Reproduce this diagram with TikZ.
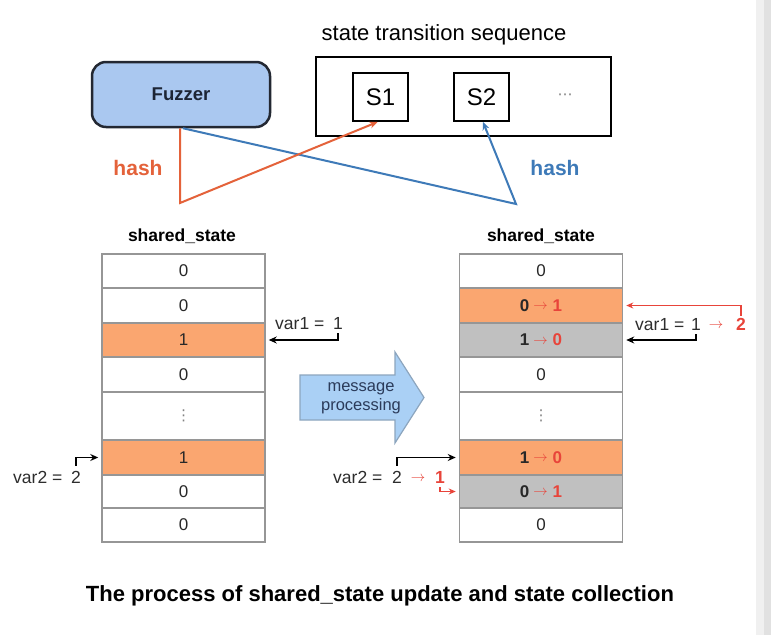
\documentclass[tikz,border=0pt]{standalone}
\usepackage{fontspec}
\setmainfont{Liberation Sans}
\newfontfamily\symfont{DejaVu Sans}
\usetikzlibrary{arrows.meta}

\definecolor{fuzzblue}{RGB}{170,200,240}
\definecolor{fuzzline}{RGB}{35,40,50}
\definecolor{fuzztext}{RGB}{28,37,53}
\definecolor{hashorange}{RGB}{228,98,58}
\definecolor{hashblue}{RGB}{62,122,184}
\definecolor{cellline}{RGB}{150,150,150}
\definecolor{celltext}{RGB}{40,40,40}
\definecolor{cellorange}{RGB}{250,166,112}
\definecolor{cellgrey}{RGB}{192,192,192}
\definecolor{newred}{RGB}{232,68,58}
\definecolor{labeltext}{RGB}{45,45,45}
\definecolor{msgblue}{RGB}{170,208,245}
\definecolor{msgline}{RGB}{140,165,190}
\definecolor{msgtext}{RGB}{43,59,90}
\definecolor{dotgrey}{RGB}{130,130,130}
\definecolor{scrolllight}{RGB}{240,240,240}
\definecolor{scrolldark}{RGB}{225,225,225}

\newcommand\titlefont{\fontsize{22}{26}\selectfont}
\newcommand\capfont{\fontsize{22}{26}\selectfont\bfseries}
\newcommand\fuzzfont{\fontsize{18.5}{22}\selectfont}
\newcommand\sfont{\fontsize{24}{29}\selectfont}
\newcommand\hashfont{\fontsize{21}{25}\selectfont\bfseries}
\newcommand\cellfont{\fontsize{17}{20}\selectfont}
\newcommand\headfont{\fontsize{17.5}{21}\selectfont\bfseries}
\newcommand\varfont{\fontsize{17.5}{21}\selectfont}
\newcommand\msgfont{\fontsize{16.5}{19}\selectfont}
\newcommand\smallarr{\raisebox{1.5pt}{\fontsize{14}{14}\selectfont$\rightarrow$}}
\newcommand\chg[2]{\textbf{#1}\hspace{4pt}\textcolor{newred}{\smallarr\hspace{5pt}\textbf{#2}}}
\newcommand\vdotsmark{\textcolor{dotgrey}{\symfont\fontsize{15}{15}\selectfont ⋮}}

\begin{document}
\begin{tikzpicture}[x=1pt, y=-1pt, >={Stealth[length=8pt,width=7pt]},
    cell/.style={draw=cellline, line width=1.5pt, minimum width=163pt, inner sep=0pt, font=\cellfont, text=celltext},
    sbox/.style={draw, line width=2pt, minimum width=55pt, minimum height=48pt, inner sep=0pt, font=\sfont},
    ptr/.style={->, line width=1.3pt, shorten >=3pt},
    newptr/.style={->, draw=newred, line width=1.2pt, shorten >=3pt, >={Stealth[length=7pt,width=6pt]}},
    lbl/.style={inner sep=0pt, font=\varfont, text=labeltext},
    hashline/.style={->, line width=2pt}]
    \useasboundingbox (0,0) rectangle (771,635);
    \fill[white] (0,0) rectangle (771,635);
    \fill[scrolllight] (756,0) rectangle (764,635);
    \fill[scrolldark] (764,0) rectangle (771,635);

    \node[draw=fuzzline, fill=fuzzblue, line width=2.5pt, rounded corners=14pt, minimum width=178pt, minimum height=65pt, font=\fuzzfont, text=fuzztext] (fuzzer) at (181,94.5) {\textbf{Fuzzer}};
    \node[font=\titlefont] (seqtitle) at (444,35) {state transition sequence};
    \node[draw, line width=2pt, minimum width=295pt, minimum height=79pt] (seqbox) at (463.5,96) {};
    \node[sbox] (S1) at (380.5,97) {S1};
    \node[sbox] (S2) at (481.5,97) {S2};
    \node[text=dotgrey, font=\symfont\fontsize{15}{15}\selectfont] (more) at (565,97) {⋯};

    \coordinate (bendA) at (180,203);
    \coordinate (bendB) at (516,204);
    \draw[hashline, hashblue] ([xshift=2pt]fuzzer.south) -- (bendB) -- ([xshift=1.5pt]S2.south);
    \draw[hashline, hashorange] ([xshift=-1pt]fuzzer.south) -- (bendA) -- ([xshift=-3pt]S1.south);
    \node[font=\hashfont, text=hashorange] (hashA) at (138,168) {hash};
    \node[font=\hashfont, text=hashblue] (hashB) at (555,168) {hash};

    \node[font=\headfont] (headL) at (182,236) {shared\_state};
    \node[font=\headfont] (headR) at (541,236) {shared\_state};
    \foreach \i/\y/\h/\f/\t in {1/271/34/white/0, 2/305.5/35/white/0, 3/340/34/cellorange/1, 4/374.5/35/white/0,
        5/416/48/white/{\vdotsmark}, 6/457.5/35/cellorange/1, 7/491.5/33/white/0, 8/525/34/white/0}
        \node[cell, fill=\f, minimum height=\h pt] (L\i) at (183.5,\y) {\t};
    \foreach \i/\y/\h/\f/\t in {1/271/34/white/0, 2/305.5/35/cellorange/{\chg{0}{1}}, 3/340/34/cellgrey/{\chg{1}{0}}, 4/374.5/35/white/0,
        5/416/48/white/{\vdotsmark}, 6/457.5/35/cellorange/{\chg{1}{0}}, 7/491.5/33/cellgrey/{\chg{0}{1}}, 8/525/34/white/0}
        \node[cell, fill=\f, minimum height=\h pt] (R\i) at (541,\y) {\t};

    \node[lbl, anchor=base west] (v1Ltxt) at (275,329) {var1 =};
    \node[lbl, anchor=base] (v1Lval) at (338,329) {1};
    \draw[ptr] ([yshift=-4pt]v1Lval.south) |- (L3.east);
    \node[lbl, anchor=base west] (v2Ltxt) at (13,483) {var2 =};
    \node[lbl, anchor=base] (v2Lval) at (76,483) {2};
    \draw[ptr] ([yshift=5pt]v2Lval.north) |- (L6.west);

    \draw[fill=msgblue, draw=msgline, line width=1.2pt] (300,375) -- (395,375) -- (395,352) -- (424,397.5)
        -- (395,443) -- (395,420) -- (300,420) -- cycle;
    \node[font=\msgfont, text=msgtext, align=center] (msg) at (361,398) {message\\processing};

    \node[lbl, anchor=base west] (v1Rtxt) at (635,330) {var1 =};
    \node[lbl, anchor=base] (v1Rval) at (696,330) {1};
    \node[lbl, anchor=base, text=newred] (v1Rarr) at (716,330) {\smallarr};
    \node[lbl, anchor=base, text=newred] (v1Rnew) at (741,330) {\textbf{2}};
    \draw[ptr] ([yshift=-4pt]v1Rval.south) |- (R3.east);
    \draw[newptr] ([yshift=2pt]v1Rnew.north) |- (R2.east);
    \node[lbl, anchor=base west] (v2Rtxt) at (333,483) {var2 =};
    \node[lbl, anchor=base] (v2Rval) at (397,483) {2};
    \node[lbl, anchor=base, text=newred] (v2Rarr) at (418,483) {\smallarr};
    \node[lbl, anchor=base, text=newred] (v2Rnew) at (440,483) {\textbf{1}};
    \draw[ptr] ([yshift=5pt]v2Rval.north) |- (R6.west);
    \draw[newptr] ([yshift=-4pt]v2Rnew.south) |- (R7.west);

    \node[font=\capfont] (caption) at (380,596) {The process of shared\_state update and state collection};
\end{tikzpicture}
\end{document}
